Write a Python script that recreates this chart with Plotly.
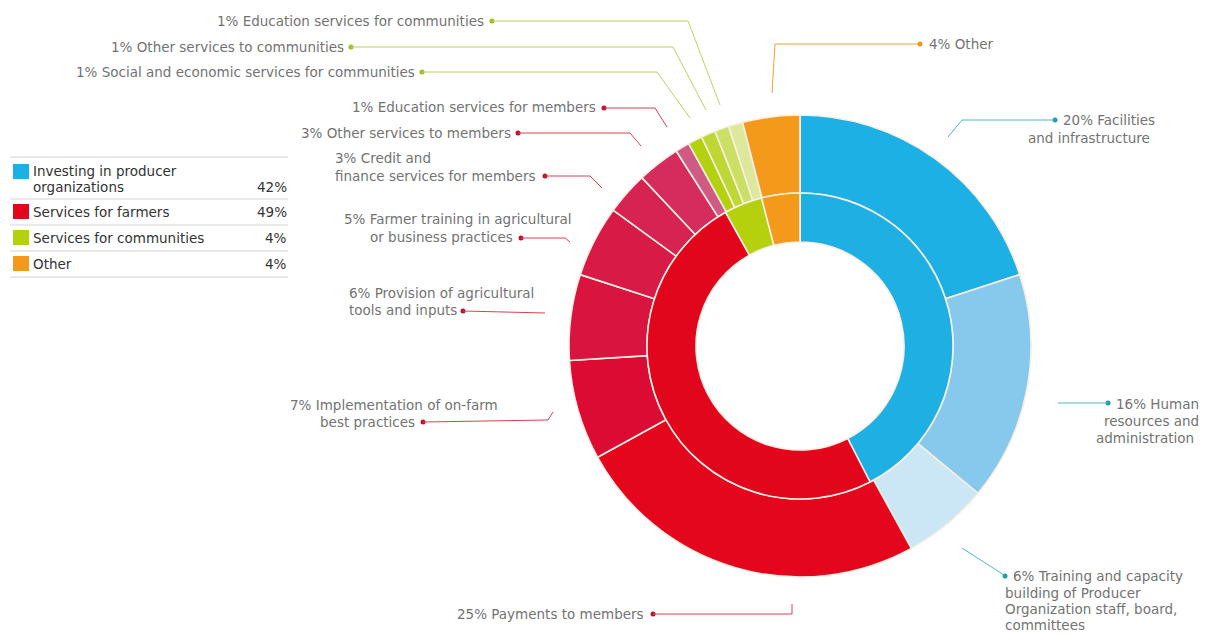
import plotly.graph_objects as go

W, H = 1208, 635

# ---- data -------------------------------------------------------------
groups = ["Investing in producer organizations", "Services for farmers",
          "Services for communities", "Other"]
group_values = [42, 49, 4, 4]

items = [
    "Facilities and infrastructure",
    "Human resources and administration",
    "Training and capacity building of Producer Organization staff, board, committees",
    "Payments to members",
    "Implementation of on-farm best practices",
    "Provision of agricultural tools and inputs",
    "Farmer training in agricultural or business practices",
    "Credit and finance services for members",
    "Other services to members",
    "Education services for members",
    "Social and economic services for communities",
    "Other services to communities",
    "Education services for communities",
    "Further community services",
    "Other",
]
item_values = [20, 16, 6, 25, 7, 6, 5, 3, 3, 1, 1, 1, 1, 1, 4]
item_group = [0, 0, 0, 1, 1, 1, 1, 1, 1, 1, 2, 2, 2, 2, 3]

# ---- styling ----------------------------------------------------------
group_colors = ["#1fb0e3", "#e2061c", "#b5d10e", "#f39a1b"]
item_colors = ["#1cb0e4", "#86c9ec", "#cbe6f5",
               "#e3061c", "#dc0b33", "#d8143f", "#d81a47", "#d72352", "#d62c5d", "#cf5a83",
               "#b4d10f", "#bfd735", "#cadf63", "#dce99c",
               "#f39a1b"]
line_colors = ["#4fb8c6", "#d9404f", "#bcd35a", "#f0a233"]
dot_colors = ["#1a9fb0", "#c0102c", "#9fbe1a", "#ef9518"]
text_color = "#737373"
font_family = "DejaVu Sans, Verdana, sans-serif"
font_size = 13.5

cx, cy = 800, 346          # ring centre (px)
r_out, r_mid, r_in = 231, 153, 104


def domain(r):
    return dict(x=[(cx - r) / W, (cx + r) / W],
                y=[(H - cy - r) / H, (H - cy + r) / H])


# label layout per item: text lines (x, y, anchor), dot position, leader polyline
label_layout = {
    0: dict(lines=[("Facilities", 1061, 120, "left"), ("and infrastructure", 1152, 138, "right")],
            dot=(1055, 120), path=[(1055, 120), (962, 120), (948, 137)]),
    1: dict(lines=[("Human", 1114, 404, "left"), ("resources and", 1201, 421, "right"),
                   ("administration", 1196, 438, "right")],
            dot=(1108, 403), path=[(1058, 403), (1108, 403)]),
    2: dict(lines=[("Training and capacity", 1011, 576, "left"), ("building of Producer", 1003, 593, "left"),
                   ("Organization staff, board,", 1003, 609, "left"), ("committees", 1003, 625, "left")],
            dot=(1005, 576), path=[(962, 548), (1004, 575)]),
    3: dict(lines=[("Payments to members", 646, 614, "right")],
            dot=(653, 614), path=[(653, 614), (792, 614), (792, 604)]),
    4: dict(lines=[("Implementation of on-farm", 288, 405, "left"), ("best practices", 417, 422, "right")],
            dot=(423, 422), path=[(423, 422), (548, 420), (553, 412)]),
    5: dict(lines=[("Provision of agricultural", 347, 293, "left"), ("tools and inputs", 347, 310, "left")],
            dot=(463, 311), path=[(463, 311), (545, 313)]),
    6: dict(lines=[("Farmer training in agricultural", 342, 219, "left"), ("or business practices", 515, 237, "right")],
            dot=(521, 238), path=[(521, 238), (565, 238), (570, 242)]),
    7: dict(lines=[("Credit and", 333, 158, "left"), ("finance services for members", 333, 176, "left")],
            dot=(545, 176), path=[(545, 176), (590, 176), (602, 188)]),
    8: dict(lines=[("Other services to members", 513, 133, "right")],
            dot=(518, 133), path=[(518, 133), (630, 133), (641, 146)]),
    9: dict(lines=[("Education services for members", 598, 107, "right")],
            dot=(604, 108), path=[(604, 108), (655, 108), (667, 127)]),
    10: dict(lines=[("Social and economic services for communities", 417, 72, "right")],
             dot=(422, 72), path=[(422, 72), (657, 72), (690, 118)]),
    11: dict(lines=[("Other services to communities", 346, 47, "right")],
             dot=(351, 47), path=[(351, 47), (673, 47), (706, 110)]),
    12: dict(lines=[("Education services for communities", 486, 21, "right")],
             dot=(492, 21), path=[(492, 21), (688, 21), (720, 105)]),
    14: dict(lines=[("Other", 927, 44, "left")],
             dot=(920, 44), path=[(920, 44), (775, 44), (772, 93)]),
}

fig = go.Figure()

# outer ring: individual spending items
fig.add_trace(go.Pie(
    labels=items, values=item_values, sort=False, direction="clockwise", rotation=0,
    hole=r_mid / r_out, domain=domain(r_out), textinfo="none", hoverinfo="label+value",
    marker=dict(colors=item_colors, line=dict(color="#f8efe4", width=1.6)),
    showlegend=False,
))
# inner ring: spending groups
fig.add_trace(go.Pie(
    labels=groups, values=group_values, sort=False, direction="clockwise", rotation=0,
    hole=r_in / r_mid, domain=domain(r_mid), textinfo="none", hoverinfo="label+value",
    marker=dict(colors=group_colors, line=dict(color="#f8efe4", width=1.6)),
    showlegend=False,
))

shapes = []
annotations = []
dot_x, dot_y, dot_c = [], [], []

for idx, spec in label_layout.items():
    g = item_group[idx]
    pts = spec["path"]
    path = "M " + " L ".join(f"{x},{y}" for x, y in pts)
    shapes.append(dict(type="path", path=path, xref="x", yref="y",
                       line=dict(color=line_colors[g], width=1)))
    dot_x.append(spec["dot"][0])
    dot_y.append(spec["dot"][1])
    dot_c.append(dot_colors[g])
    for k, (txt, x, y, anchor) in enumerate(spec["lines"]):
        if k == 0:
            txt = f"{item_values[idx]}% {txt}"
        annotations.append(dict(text=txt, x=x, y=y, xref="x", yref="y",
                                xanchor=anchor, yanchor="middle", showarrow=False,
                                font=dict(size=font_size, color=text_color, family=font_family)))

fig.add_trace(go.Scatter(x=dot_x, y=dot_y, mode="markers", hoverinfo="skip",
                         marker=dict(size=5, color=dot_c), showlegend=False))

# ---- group table on the left -----------------------------------------
legend_rows = [
    dict(lines=[("Investing in producer", 171), ("organizations", 187)], sq=172, pct=187),
    dict(lines=[("Services for farmers", 212)], sq=212, pct=212),
    dict(lines=[("Services for communities", 238)], sq=238, pct=238),
    dict(lines=[("Other", 264)], sq=264, pct=264),
]
rule_ys = [157, 199, 225, 251, 277]
for y in rule_ys:
    shapes.append(dict(type="line", xref="x", yref="y", x0=10, x1=288, y0=y, y1=y,
                       line=dict(color="#d4d4d4", width=1)))
for i, row in enumerate(legend_rows):
    shapes.append(dict(type="rect", xref="x", yref="y", x0=13, x1=29,
                       y0=row["sq"] - 8, y1=row["sq"] + 7,
                       fillcolor=group_colors[i], line=dict(width=0)))
    for txt, y in row["lines"]:
        annotations.append(dict(text=txt, x=31, y=y, xref="x", yref="y", xanchor="left",
                                yanchor="middle", showarrow=False,
                                font=dict(size=font_size, color="#333333", family=font_family)))
    annotations.append(dict(text=f"{group_values[i]}%", x=289, y=row["pct"], xref="x", yref="y",
                            xanchor="right", yanchor="middle", showarrow=False,
                            font=dict(size=font_size, color="#333333", family=font_family)))

fig.update_layout(
    width=W, height=H, margin=dict(l=0, r=0, t=0, b=0),
    paper_bgcolor="white", plot_bgcolor="white",
    xaxis=dict(range=[0, W], visible=False, fixedrange=True),
    yaxis=dict(range=[H, 0], visible=False, fixedrange=True),
    shapes=shapes, annotations=annotations,
)

fig.write_html("out.html")
